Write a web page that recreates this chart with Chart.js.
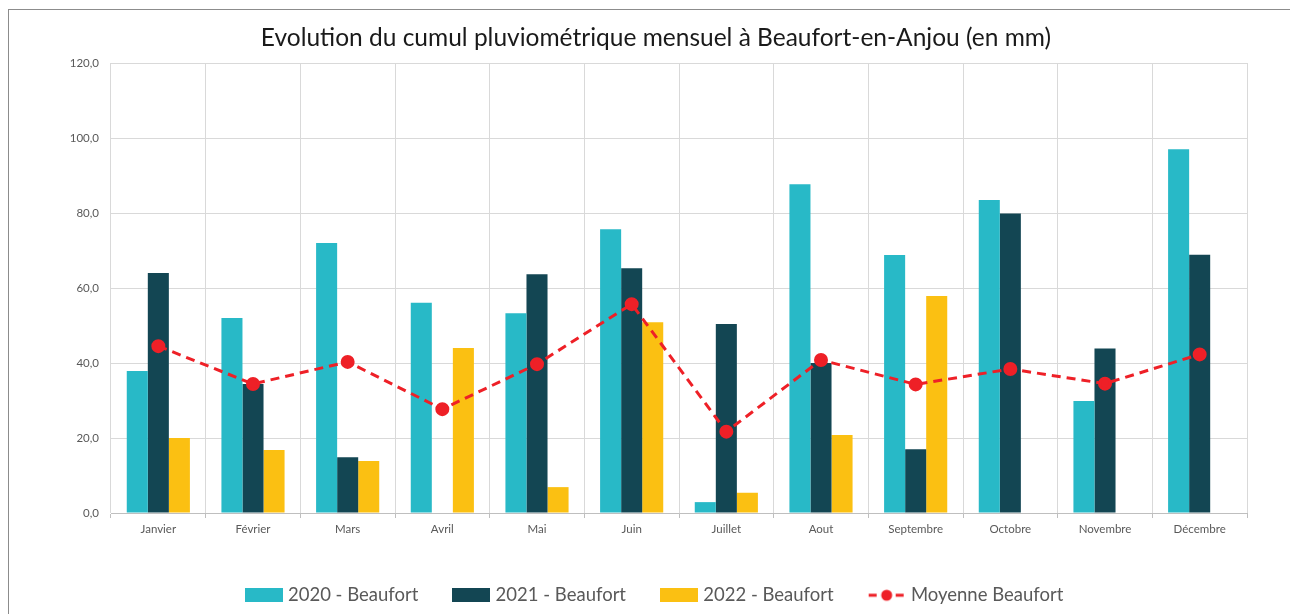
<!DOCTYPE html>
<html lang="fr">
<head>
<meta charset="utf-8">
<title>Cumul pluviométrique Beaufort-en-Anjou</title>
<script src="https://cdn.jsdelivr.net/npm/chart.js@4.4.1/dist/chart.umd.min.js"></script>
<style>
    html, body { margin: 0; padding: 0; background: #ffffff; }
    #cadre { position: absolute; left: 8px; top: 9px; width: 1400px; height: 700px; border: 1px solid #8c8c8c; }
    #zone { position: absolute; left: 0; top: 0; width: 1290px; height: 614px; }
</style>
</head>
<body>
<div id="cadre"></div>
<div id="zone"><canvas id="miGraficoPluvio" width="1290" height="614"></canvas></div>
<script>
const mois = ['Janvier', 'Février', 'Mars', 'Avril', 'Mai', 'Juin', 'Juillet', 'Aout', 'Septembre', 'Octobre', 'Novembre', 'Décembre'];
const pluie2020 = [37.9, 52.0, 72.0, 56.1, 53.3, 75.7, 2.9, 87.7, 68.8, 83.5, 29.9, 97.0];
const pluie2021 = [64.0, 34.4, 14.9, null, 63.7, 65.3, 50.4, 40.0, 17.0, 79.9, 43.9, 68.9];
const pluie2022 = [20.0, 16.8, 13.9, 44.0, 6.9, 50.9, 5.4, 20.8, 57.9, null, null, null];
const moyenneBeaufort = [44.5, 34.4, 40.3, 27.7, 39.7, 55.7, 21.7, 40.8, 34.3, 38.4, 34.5, 42.3];
const yTicks = [0, 20, 40, 60, 80, 100, 120];

const couleurs = ['#28b9c7', '#134653', '#fbc012', '#ee2027'];

// petites images pour la legende
function boiteLegende(coul) {
    const c = document.createElement('canvas');
    c.width = 38; c.height = 14;
    const ctx = c.getContext('2d');
    ctx.fillStyle = coul;
    ctx.fillRect(0, 0, 38, 14);
    return c;
}
function ligneLegende(coul) {
    const c = document.createElement('canvas');
    c.width = 38; c.height = 14;
    const ctx = c.getContext('2d');
    ctx.strokeStyle = coul;
    ctx.lineWidth = 3;
    ctx.beginPath();
    ctx.moveTo(1, 7); ctx.lineTo(9, 7);
    ctx.moveTo(28, 7); ctx.lineTo(36, 7);
    ctx.stroke();
    ctx.fillStyle = coul;
    ctx.beginPath();
    ctx.arc(19, 7, 5.5, 0, Math.PI * 2);
    ctx.fill();
    return c;
}
const iconesLegende = [boiteLegende(couleurs[0]), boiteLegende(couleurs[1]), boiteLegende(couleurs[2]), ligneLegende(couleurs[3])];

const legendeHauteur = {
    id: 'legendeHauteur',
    beforeInit(chart) {
        const fitOrig = chart.legend.fit;
        chart.legend.fit = function () {
            fitOrig.bind(chart.legend)();
            this.height = 66;
        };
    }
};

function getChartConfigPluvio(labels) {
    return {
        type: 'bar',
        data: {
            labels: labels,
            datasets: [
                { label: '2020 - Beaufort', data: pluie2020, backgroundColor: couleurs[0], order: 1 },
                { label: '2021 - Beaufort', data: pluie2021, backgroundColor: couleurs[1], order: 1 },
                { label: '2022 - Beaufort', data: pluie2022, backgroundColor: couleurs[2], order: 1 },
                {
                    type: 'line', label: 'Moyenne Beaufort', data: moyenneBeaufort, order: 0,
                    borderColor: couleurs[3], backgroundColor: couleurs[3],
                    borderWidth: 3, borderDash: [9, 6], pointRadius: 5.5, pointHoverRadius: 5.5,
                    tension: 0, fill: false
                }
            ]
        },
        options: {
            responsive: false,
            animation: false,
            events: [],
            layout: { padding: { left: 65, right: 43, top: 0, bottom: 0 } },
            datasets: { bar: { categoryPercentage: 0.667, barPercentage: 1.0 } },
            plugins: {
                title: {
                    display: true,
                    text: 'Evolution du cumul pluviométrique mensuel à Beaufort-en-Anjou (en mm)',
                    color: '#1a1a1a',
                    font: { family: 'Lato', size: 24.5, weight: 'normal', lineHeight: 1.2 },
                    padding: { top: 23.3, bottom: 10.3 }
                },
                legend: {
                    position: 'bottom',
                    labels: {
                        usePointStyle: true,
                        pointStyleWidth: 30,
                        boxHeight: 14,
                        padding: 38,
                        color: '#595959',
                        font: { family: 'Lato', size: 18.5 },
                        generateLabels(chart) {
                            const items = Chart.defaults.plugins.legend.labels.generateLabels(chart);
                            items.sort((a, b) => a.datasetIndex - b.datasetIndex);
                            for (let item of items) {
                                item.pointStyle = iconesLegende[item.datasetIndex];
                                item.rotation = 0;
                            }
                            return items;
                        }
                    }
                },
                tooltip: { enabled: false }
            },
            scales: {
                x: {
                    grid: { color: '#d9d9d9', offset: true, tickLength: 5, tickColor: '#bfbfbf' },
                    border: { color: '#bfbfbf' },
                    ticks: { color: '#595959', font: { family: 'Lato', size: 11.5 }, padding: 4, maxRotation: 0 },
                    afterFit(s) { s.height = 35; }
                },
                y: {
                    min: 0, max: 120,
                    afterBuildTicks(s) { s.ticks = yTicks.map(v => ({ value: v })); },
                    grid: { color: '#d9d9d9', drawTicks: false },
                    border: { display: false },
                    ticks: {
                        color: '#595959', font: { family: 'Lato', size: 11.5 }, padding: 12,
                        callback: v => v.toFixed(1).replace('.', ',')
                    },
                    afterFit(s) { s.width = 46; }
                }
            }
        },
        plugins: [legendeHauteur]
    };
}

const grafico = new Chart(document.getElementById('miGraficoPluvio'), getChartConfigPluvio(mois));
</script>
</body>
</html>
